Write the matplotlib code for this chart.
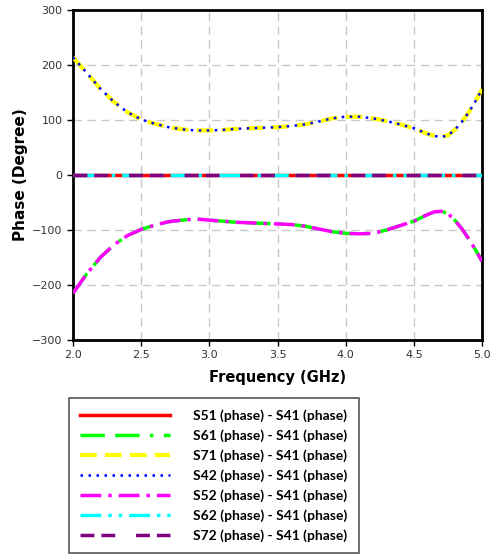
import matplotlib.pyplot as plt
import numpy as np

# частоти (GHz) та фази (градуси)
freq = [2.0, 2.1, 2.2, 2.3, 2.4, 2.5, 2.6, 2.7, 2.8, 2.9, 3.0, 3.1, 3.2, 3.3,
        3.4, 3.5, 3.6, 3.7, 3.8, 3.9, 4.0, 4.1, 4.2, 4.3, 4.4, 4.5, 4.6, 4.65,
        4.7, 4.75, 4.8, 4.85, 4.9, 4.95, 5.0]
phase_upper = [214, 186, 157, 133, 114, 101, 93, 87, 83, 81, 81, 82, 84, 85,
               86, 87, 89, 92, 97, 103, 106, 106, 103, 98, 92, 85, 75, 71,
               69, 72, 82, 96, 113, 133, 156]
phase_lower = [-215, -180, -150, -127, -110, -99, -91, -85, -82, -80, -82, -84, -86, -87,
               -88, -89, -90, -93, -98, -103, -106, -107, -106, -100, -92, -84, -72, -67,
               -66, -70, -82, -97, -115, -135, -157]
phase_zero = [0] * len(freq)

labels = ["S51 (phase) - S41 (phase)", "S61 (phase) - S41 (phase)",
          "S71 (phase) - S41 (phase)", "S42 (phase) - S41 (phase)",
          "S52 (phase) - S41 (phase)", "S62 (phase) - S41 (phase)",
          "S72 (phase) - S41 (phase)"]

fig = plt.figure(figsize=(4.92, 5.54), dpi=100)
ax = fig.add_axes([73 / 492, 1 - 340 / 554, 409 / 492, 330 / 554])

l51, = ax.plot(freq, phase_zero, color='#ff0000', lw=2.5, label=labels[0], zorder=3)
l61, = ax.plot(freq, phase_lower, color='#00ff00', lw=2.5, dashes=[7, 3, 7, 3, 1, 3],
               label=labels[1], zorder=3)
l71, = ax.plot(freq, phase_upper, color='#ffff00', lw=3, dashes=[4, 2],
               label=labels[2], zorder=3)
l42, = ax.plot(freq, phase_upper, color='#0000ff', lw=1.8, dashes=[1, 2.2],
               label=labels[3], zorder=4)
l52, = ax.plot(freq, phase_lower, color='#ff00ff', lw=2.5, dashes=[6, 2, 1, 2],
               label=labels[4], zorder=4)
l62, = ax.plot(freq, phase_zero, color='#00ffff', lw=2.5, dashes=[6, 2, 1, 2, 1, 2],
               label=labels[5], zorder=4)
l72, = ax.plot(freq, phase_zero, color='#800080', lw=2.5, dashes=[4, 2, 4, 6],
               label=labels[6], zorder=5)

ax.set_xlim(2.0, 5.0)
ax.set_ylim(-300, 300)
ax.set_xticks([2.0, 2.5, 3.0, 3.5, 4.0, 4.5, 5.0])
ax.set_xticklabels(['2.0', '2.5', '3.0', '3.5', '4.0', '4.5', '5.0'])
ax.set_yticks([-300, -200, -100, 0, 100, 200, 300])
ax.tick_params(direction='out', length=4, width=1, labelsize=8, colors='black',
               labelcolor='#333333')
ax.grid(True, color='#c8c8c8', linestyle=(0, (6, 4)), linewidth=1)
for s in ax.spines.values():
    s.set_linewidth(2)
    s.set_color('black')

ax.set_xlabel('Frequency (GHz)', fontsize=10.5, fontweight='bold', labelpad=7)
ax.set_ylabel('Phase (Degree)', fontsize=11, fontweight='bold', labelpad=3)

leg = fig.legend(handles=[l51, l61, l71, l42, l52, l62, l72],
                 loc='upper left', bbox_to_anchor=(69 / 492, 1 - 398 / 554),
                 borderaxespad=0, handlelength=6.5, handletextpad=1.65,
                 labelspacing=0.53, borderpad=0.8, fancybox=False,
                 edgecolor='#555555', framealpha=1,
                 prop={'family': ['Lato', 'DejaVu Sans'], 'weight': 'bold', 'size': 10})
leg.get_frame().set_linewidth(1.2)

plt.savefig('out.png', dpi=100)
